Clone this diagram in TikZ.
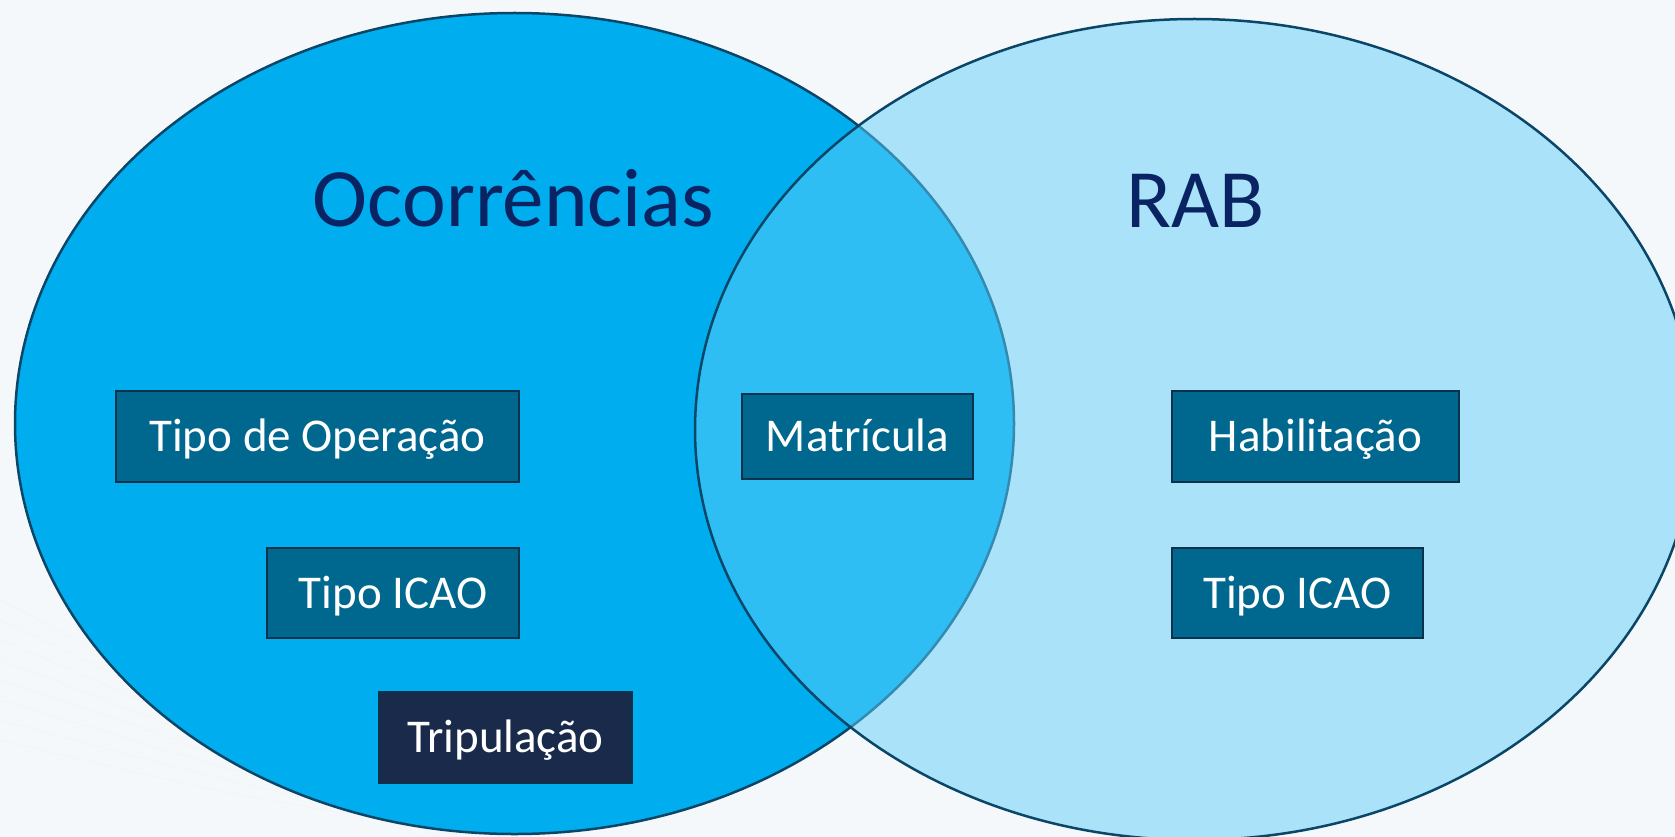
\documentclass[tikz,border=0pt]{standalone}
\usepackage{fontspec}
\setmainfont{Carlito}
\definecolor{bgc}{RGB}{245,248,250}
\definecolor{leftfill}{RGB}{0,174,239}
\definecolor{rightfill}{RGB}{94,206,249}
\definecolor{ringline}{RGB}{10,70,104}
\definecolor{boxfill}{RGB}{0,104,143}
\definecolor{boxline}{RGB}{10,50,75}
\definecolor{darkbox}{RGB}{26,42,74}
\definecolor{titlec}{RGB}{10,36,99}
\tikzset{
  ring/.style={draw=ringline, line width=2.5pt},
  databox/.style={draw=boxline, line width=2pt, fill=boxfill, text=white,
    font=\fontsize{47}{54}\selectfont, text height=30pt, text depth=0pt,
    inner sep=0pt, rectangle, anchor=center},
  title/.style={text=titlec, font=\fontsize{83}{96}\selectfont, anchor=base, inner sep=0pt},
  swirl/.style={draw=gray!15, line width=0.8pt, opacity=0.3}
}
\begin{document}
\begin{tikzpicture}[x=1pt,y=-1pt]
  \fill[bgc] (0,0) rectangle (1675,837);
  \useasboundingbox (0,0) rectangle (1675,837);
  % faint background lines
  \foreach \k in {0,...,7} {
    \draw[swirl] (0,{600+20*\k}) .. controls ({120+10*\k},{660+18*\k}) and ({260+10*\k},{750+10*\k}) .. ({420+20*\k},837);
  }
  % left set
  \path[ring, fill=leftfill] (514.5,423.5) ellipse [x radius=499.5pt, y radius=410.5pt];
  % right set, translucent fill over the left one
  \path[fill=rightfill, fill opacity=0.5] (1194.5,429.5) ellipse [x radius=499.5pt, y radius=410.5pt];
  \path[ring] (1194.5,429.5) ellipse [x radius=499.5pt, y radius=410.5pt];
  % titles
  \node[title] (tOc) at (513.5,226) {Ocorrências};
  \node[title] (tRab) at (1195.5,227) {RAB};
  % boxes
  \node[databox, minimum width=403pt, minimum height=91pt] (op) at (317.5,436.5) {Tipo de Operação};
  \node[databox, minimum width=252pt, minimum height=90pt] (icaoL) at (393,593) {Tipo ICAO};
  \node[databox, fill=darkbox, minimum width=253pt, minimum height=91pt] (trip) at (505.5,737.5) {Tripulação};
  \node[databox, minimum width=231pt, minimum height=85pt] (mat) at (857.5,436.5) {Matrícula};
  \node[databox, minimum width=287pt, minimum height=91pt] (hab) at (1315.5,436.5) {Habilitação};
  \node[databox, minimum width=251pt, minimum height=90pt] (icaoR) at (1297.5,593) {Tipo ICAO};
\end{tikzpicture}
\end{document}
